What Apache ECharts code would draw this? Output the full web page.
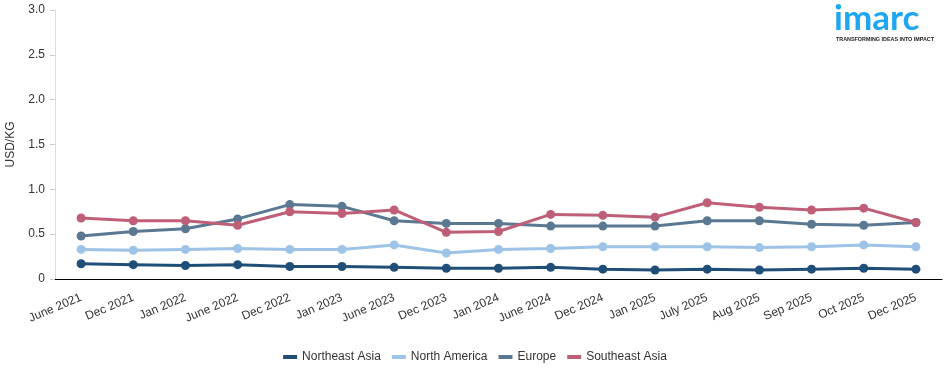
<!DOCTYPE html>
<html><head><meta charset="utf-8">
<script src="https://cdn.jsdelivr.net/npm/echarts@6/dist/echarts.min.js"></script>
<style>html,body{margin:0;padding:0;background:#fff}#c{width:950px;height:373px}</style>
</head><body><div id="c"></div>
<script>
const categories = ["June 2021","Dec 2021","Jan 2022","June 2022","Dec 2022","Jan 2023","June 2023","Dec 2023","Jan 2024","June 2024","Dec 2024","Jan 2025","July 2025","Aug 2025","Sep 2025","Oct 2025","Dec 2025"];
const northeastAsia = [0.17,0.16,0.15,0.16,0.14,0.14,0.13,0.12,0.12,0.13,0.11,0.10,0.11,0.10,0.11,0.12,0.11];
const northAmerica = [0.33,0.32,0.33,0.34,0.33,0.33,0.38,0.29,0.33,0.34,0.36,0.36,0.36,0.35,0.36,0.38,0.36];
const europe = [0.48,0.53,0.56,0.67,0.83,0.81,0.65,0.62,0.62,0.59,0.59,0.59,0.65,0.65,0.61,0.60,0.63];
const southeastAsia = [0.68,0.65,0.65,0.60,0.75,0.73,0.77,0.52,0.53,0.72,0.71,0.69,0.85,0.80,0.77,0.79,0.63];
const yTicks = ["0","0.5","1.0","1.5","2.0","2.5","3.0"];
const seriesNames = ["Northeast Asia","North America","Europe","Southeast Asia"];
const colors = ["#1f4e79","#9dc3e6","#5b7893","#be5f77"];
const dataSets = [northeastAsia, northAmerica, europe, southeastAsia];

const chart = echarts.init(document.getElementById('c'));
const font = "Liberation Sans, Arial, sans-serif";
chart.setOption({
  animation:false,
  textStyle:{fontFamily:font},
  grid:{left:55,right:8,top:10,bottom:94,outerBoundsMode:'none',containLabel:false},
  legend:{bottom:5,left:'center',itemWidth:14,itemHeight:4,itemGap:11,icon:'rect',
    textStyle:{fontSize:12,color:'#333',fontFamily:font},data:seriesNames},
  xAxis:{type:'category',data:categories,boundaryGap:true,
    axisLine:{lineStyle:{color:'#000',width:1}},
    axisTick:{alignWithLabel:true,length:7,lineStyle:{color:'#000'}},
    axisLabel:{rotate:23,fontSize:12,color:'#333',margin:18,interval:0,fontFamily:font}},
  yAxis:{type:'value',min:0,max:3,interval:0.5,name:'USD/KG',nameLocation:'middle',nameGap:38,
    nameTextStyle:{fontSize:12,color:'#333',fontFamily:font},
    axisLine:{show:true,lineStyle:{color:'#ddd'}},
    axisTick:{show:true,length:5,lineStyle:{color:'#ccc'}},
    splitLine:{show:false},
    axisLabel:{fontSize:12,color:'#333',margin:10,fontFamily:font,formatter:function(v){return yTicks[Math.round(v/0.5)];}}},
  series:dataSets.map((d,i)=>({name:seriesNames[i],type:'line',data:d,symbol:'circle',symbolSize:9,
    itemStyle:{color:colors[i]},lineStyle:{width:3,color:colors[i]}})),
  graphic:[
    {type:'text',left:834,top:1,style:{text:'imarc',fill:'#1ea7f0',font:'bold 35px Lato, sans-serif'}},
    {type:'text',left:836,top:37,style:{text:'TRANSFORMING IDEAS INTO IMPACT',fill:'#222',font:'bold 5.4px Liberation Sans, Arial, sans-serif'}}
  ]
});
</script></body></html>
